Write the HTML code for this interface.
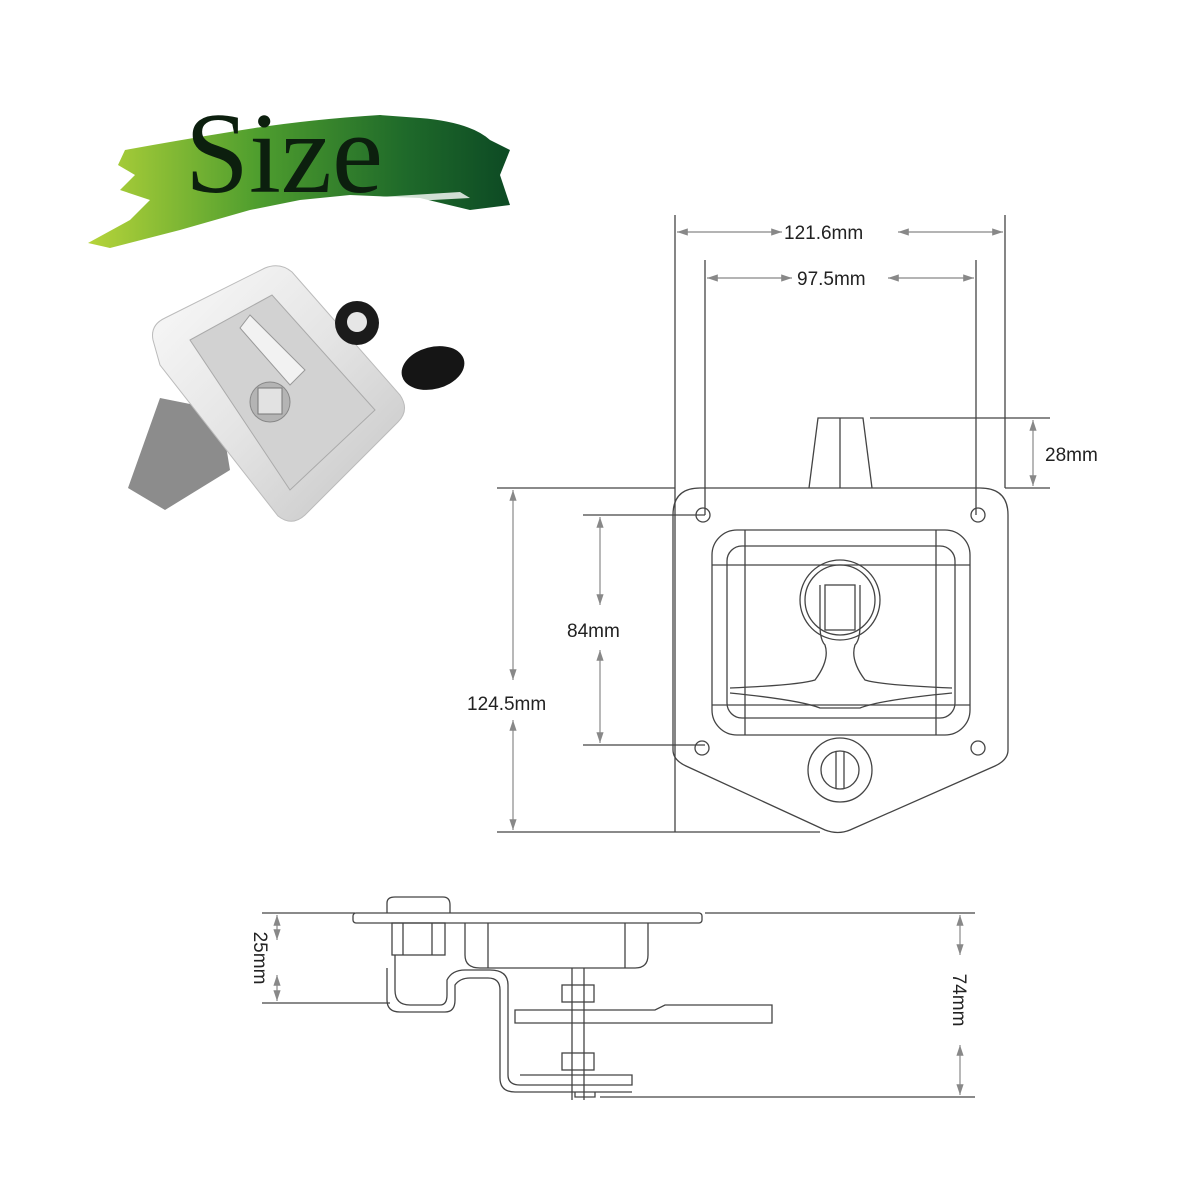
<!DOCTYPE html>
<html><head><meta charset="utf-8"><style>
html,body{margin:0;padding:0;background:#fff;width:1200px;height:1200px;overflow:hidden}
svg{display:block}
text{font-family:"Liberation Sans",sans-serif;font-size:19px;fill:#222}
</style></head><body>
<svg width="1200" height="1200" viewBox="0 0 1200 1200">
<defs>
<linearGradient id="g" x1="0" y1="0" x2="1" y2="0">
<stop offset="0" stop-color="#b6d43a"/><stop offset="0.4" stop-color="#4f9e2e"/><stop offset="0.75" stop-color="#1f6a2a"/><stop offset="1" stop-color="#0d4a24"/>
</linearGradient>
<linearGradient id="m" x1="0" y1="0" x2="1" y2="1">
<stop offset="0" stop-color="#fafafa"/><stop offset="0.5" stop-color="#e4e4e4"/><stop offset="1" stop-color="#c4c4c4"/>
</linearGradient>
<marker id="a" markerWidth="10" markerHeight="8" refX="9" refY="4" orient="auto-start-reverse"><path d="M0,1 L9,4 L0,7" fill="#888"/></marker>
</defs>
<path d="M125,150 Q180,140 230,132 Q300,120 380,115 L420,118 Q470,122 490,140 L510,150 L500,175 L510,205 L470,210 L420,198 L350,195 L300,200 L250,210 L180,230 L110,248 L88,243 L130,220 L150,200 L120,190 L135,175 L118,165 Z" fill="url(#g)"/>
<path d="M330,200 L460,192 L470,198 L340,205 Z" fill="#fff" opacity="0.8"/>
<text x="185" y="192" textLength="198" lengthAdjust="spacingAndGlyphs" style="font-family:'Liberation Serif',serif;font-size:116px;fill:#0c1f0e">Size</text>
<!-- photo -->
<path d="M160,398 L128,488 L165,510 L230,470 L220,410 Z" fill="#8c8c8c"/>
<path d="M153,340 Q150,325 165,318 L265,268 Q280,262 292,272 L400,395 Q410,410 398,422 L305,515 Q292,527 278,516 L160,365 Z" fill="url(#m)" stroke="#bbb"/>
<path d="M190,340 L272,295 L375,410 L290,490 Z" fill="#d2d2d2" stroke="#aaa"/>
<path d="M250,315 L305,370 L290,385 L240,328 Z" fill="#f2f2f2" stroke="#999"/>
<circle cx="270" cy="402" r="20" fill="#b4b4b4" stroke="#888"/>
<rect x="258" y="388" width="24" height="26" fill="#e2e2e2" stroke="#777"/>
<circle cx="357" cy="323" r="22" fill="#1b1b1b"/><circle cx="357" cy="322" r="10" fill="#e6e6e6"/>
<ellipse cx="433" cy="368" rx="32" ry="21" fill="#151515" transform="rotate(-15 433 368)"/>
<g stroke="#444" stroke-width="1.3" fill="none">
<path d="M675,215 V832 M1005,215 V488 M705,260 V515 M976,260 V515"/>
<path d="M870,418 H1050 M1005,488 H1050 M497,488 H675 M497,832 H820 M583,515 H705 M583,745 H705"/>
</g>
<g stroke="#888" stroke-width="1.2" marker-start="url(#a)" marker-end="url(#a)">
<line x1="677" y1="232" x2="782" y2="232"/><line x1="898" y1="232" x2="1003" y2="232"/>
<line x1="707" y1="278" x2="792" y2="278"/><line x1="888" y1="278" x2="974" y2="278"/>
<line x1="1033" y1="420" x2="1033" y2="486"/>
<line x1="513" y1="490" x2="513" y2="680"/><line x1="513" y1="720" x2="513" y2="830"/>
<line x1="600" y1="517" x2="600" y2="605"/><line x1="600" y1="650" x2="600" y2="743"/>
</g>
<g stroke="#444" stroke-width="1.3" fill="none">
<path d="M700,488 H980 Q1008,488 1008,515 V750 Q1008,760 995,766 L850,830 Q838,835 825,830 L686,766 Q673,760 673,750 V515 Q673,488 700,488 Z"/>
<path d="M809,488 L818,418 H863 L872,488 M840,418 V488"/>
<rect x="712" y="530" width="258" height="205" rx="25"/>
<rect x="727" y="546" width="228" height="172" rx="15"/>
<path d="M745,530 V735 M936,530 V735 M712,565 H970 M712,705 H970"/>
<circle cx="703" cy="515" r="7"/><circle cx="978" cy="515" r="7"/><circle cx="702" cy="748" r="7"/><circle cx="978" cy="748" r="7"/>
<circle cx="840" cy="770" r="32"/><circle cx="840" cy="770" r="19"/><path d="M836,752 V788 M844,752 V788"/>
<circle cx="840" cy="600" r="40"/><circle cx="840" cy="600" r="35"/>
<rect x="825" y="585" width="30" height="45"/>
<path d="M820,585 V625 Q820,640 825,645 Q830,660 815,680 Q800,685 730,688 M860,585 V625 Q860,640 855,645 Q850,660 865,680 Q880,685 952,688"/>
<path d="M730,693 Q800,700 820,708 H860 Q880,700 952,693"/>
<path d="M262,913 H355 M705,913 H975 M262,1003 H390 M600,1097 H975"/>
<rect x="353" y="913" width="349" height="10" rx="3"/>
<path d="M387,913 V903 Q387,897 395,897 H443 Q450,897 450,905 V913"/>
<rect x="392" y="923" width="53" height="32"/>
<path d="M403,923 V955 M432,923 V955"/>
<path d="M395,955 V990 Q395,1005 410,1005 H440 Q447,1005 447,995 V980 Q452,970 465,970 H490 Q508,970 508,985 V1075 Q508,1085 520,1085 H632 V1075 H520"/>
<path d="M387,968 V1000 Q387,1012 400,1012 H445 Q455,1012 455,1000 V985 Q460,978 470,978 H488 Q500,978 500,990 V1078 Q500,1092 515,1092 H632"/>
<path d="M465,923 V955 Q465,968 480,968 H635 Q648,968 648,955 V923 M488,923 V968 M625,923 V968"/>
<rect x="562" y="985" width="32" height="17"/><rect x="562" y="1053" width="32" height="17"/>
<path d="M572,968 V1100 M584,968 V1100 M575,1092 V1097 H595 V1092"/>
<path d="M515,1010 H655 L665,1005 H772 V1023 H515 Z"/>
</g>
<g stroke="#888" stroke-width="1.2" marker-start="url(#a)" marker-end="url(#a)">
<line x1="277" y1="915" x2="277" y2="940"/><line x1="277" y1="975" x2="277" y2="1001"/>
<line x1="960" y1="915" x2="960" y2="955"/><line x1="960" y1="1045" x2="960" y2="1095"/>
</g>
<text x="784" y="239">121.6mm</text>
<text x="797" y="285">97.5mm</text>
<text x="1045" y="461">28mm</text>
<text x="467" y="710">124.5mm</text>
<text x="567" y="637">84mm</text>
<text transform="translate(254,958) rotate(90)" text-anchor="middle">25mm</text>
<text transform="translate(953,1000) rotate(90)" text-anchor="middle">74mm</text>
</svg>
</body></html>
